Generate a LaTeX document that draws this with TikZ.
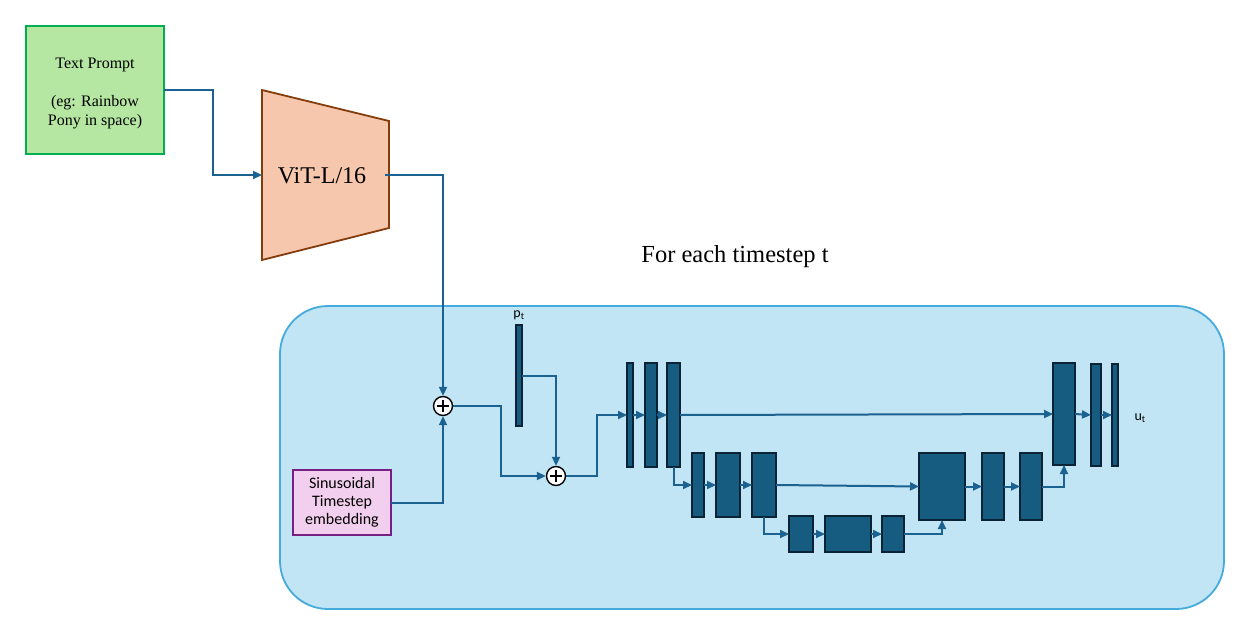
\documentclass[tikz,border=0pt]{standalone}
\usepackage{fontspec}
\setmainfont{Liberation Serif}
\newfontfamily\calib{Carlito}
\usetikzlibrary{arrows.meta}
\definecolor{blkfill}{HTML}{155C80}
\definecolor{blkdraw}{HTML}{0A2435}
\definecolor{linec}{HTML}{1B6290}
\definecolor{boxfill}{HTML}{C1E5F5}
\definecolor{boxdraw}{HTML}{45AADC}
\definecolor{tpfill}{HTML}{B5E6A2}
\definecolor{tpdraw}{HTML}{00B050}
\definecolor{vitfill}{HTML}{F6C6AD}
\definecolor{vitdraw}{HTML}{843C0B}
\definecolor{sinfill}{HTML}{F2CFEE}
\definecolor{sindraw}{HTML}{772081}
\tikzset{
  blk/.style={draw=blkdraw, fill=blkfill, line width=1.8pt, inner sep=0pt, outer sep=0pt, anchor=north west},
  arr/.style={draw=linec, line width=2pt, -{Triangle[length=9pt,width=8pt]}},
  plusc/.style={circle, draw=black, fill=white, line width=1.4pt, minimum size=19pt, inner sep=0pt}
}
\begin{document}
\begin{tikzpicture}[x=1pt,y=-1pt]
\useasboundingbox (0,0) rectangle (1235,627);
% container
\draw[fill=boxfill, draw=boxdraw, line width=1.8pt, rounded corners=48pt] (280,306) rectangle (1224,609);
\node[font=\fontsize{24.5}{28}\selectfont] (title) at (735,257) {For each timestep t};
% text prompt
\node[draw=tpdraw, fill=tpfill, line width=1.8pt, minimum width=138pt, minimum height=128pt, inner sep=0pt, outer sep=0pt, anchor=north west] (tp) at (26,26) {};
\node[font=\fontsize{16}{19}\selectfont, align=center] (tptext) at (95,93) {Text Prompt\\[19pt](eg: Rainbow\\Pony in space)};
% ViT
\draw[fill=vitfill, draw=vitdraw, line width=1.8pt] (262,90) -- (389,121) -- (389,228) -- (262,260) -- cycle;
\node[font=\fontsize{24}{28}\selectfont] (vit) at (322,176) {ViT-L/16};
\coordinate (vitin) at (262,175);
\coordinate (vitout) at (385,175);
% sinusoidal
\node[draw=sindraw, fill=sinfill, line width=1.8pt, minimum width=98pt, minimum height=65pt, inner sep=0pt, outer sep=0pt, anchor=north west, font=\calib\fontsize{16}{18.3}\selectfont, align=center] (sin) at (293,470) {Sinusoidal\\Timestep\\embedding};
% plus circles
\node[plusc] (c1) at (443,406) {};
\node[plusc] (c2) at (556,476) {};
\foreach \c in {c1,c2}{
  \draw[line width=1.5pt] ([xshift=-6pt]\c.center) -- ([xshift=6pt]\c.center);
  \draw[line width=1.5pt] ([yshift=-6pt]\c.center) -- ([yshift=6pt]\c.center);
}
% pt bar
\node[blk, minimum width=6pt, minimum height=101pt] (pt) at (516,325) {};
\node[font=\calib\fontsize{14}{16}\selectfont] (ptl) at (519,315) {p\textsubscript{t}};
% encoder
\node[blk, minimum width=6pt, minimum height=104pt] (B1) at (627,363) {};
\node[blk, minimum width=12pt, minimum height=104pt] (B2) at (645,363) {};
\node[blk, minimum width=13pt, minimum height=104pt] (B3) at (667,363) {};
\node[blk, minimum width=12pt, minimum height=64pt] (B4) at (692,453) {};
\node[blk, minimum width=24pt, minimum height=64pt] (B5) at (716,453) {};
\node[blk, minimum width=24pt, minimum height=64pt] (B6) at (752,453) {};
\node[blk, minimum width=24pt, minimum height=36pt] (B7) at (789,516) {};
\node[blk, minimum width=46pt, minimum height=36pt] (B8) at (825,516) {};
\node[blk, minimum width=22pt, minimum height=36pt] (B9) at (882,516) {};
% decoder
\node[blk, minimum width=46pt, minimum height=67pt] (D3) at (919,453) {};
\node[blk, minimum width=22pt, minimum height=67pt] (D4) at (982,453) {};
\node[blk, minimum width=22pt, minimum height=67pt] (D5) at (1020,453) {};
\node[blk, minimum width=22pt, minimum height=102pt] (D1) at (1053,363) {};
\node[blk, minimum width=10pt, minimum height=102pt] (D2) at (1091,364) {};
\node[blk, minimum width=6pt, minimum height=102pt] (D6) at (1112,364) {};
\node[font=\calib\fontsize{14}{16}\selectfont, anchor=west] (ut) at (1131,418) {u\textsubscript{t}};
% connectors
\draw[arr] (tp.east) -- ++(49,0) |- (vitin);
\draw[arr] (vitout) -| (c1.north);
\draw[arr] (sin.east) -| (c1.south);
\draw[arr] (c1.east) -- ++(48,0) |- (c2.west);
\draw[arr] (pt.east) -| (c2.north);
\draw[arr] (c2.east) -- ++(31,0) |- (B1.west);
\draw[arr] (B1.east) -- (B2.west);
\draw[arr] (B2.east) -- (B3.west);
\draw[arr] (B3.east) -- (D1.west);
\draw[arr] (B3.south) |- (B4.west);
\draw[arr] (B4.east) -- (B5.west);
\draw[arr] (B5.east) -- (B6.west);
\draw[arr] (B6.east) -- (D3.west);
\draw[arr] (B6.south) |- (B7.west);
\draw[arr] (B7.east) -- (B8.west);
\draw[arr] (B8.east) -- (B9.west);
\draw[arr] (B9.east) -| (D3.south);
\draw[arr] (D3.east) -- (D4.west);
\draw[arr] (D4.east) -- (D5.west);
\draw[arr] (D5.east) -| (D1.south);
\draw[arr] (D1.east) -- (D2.west);
\draw[arr] (D2.east) -- (D6.west);
\end{tikzpicture}
\end{document}
